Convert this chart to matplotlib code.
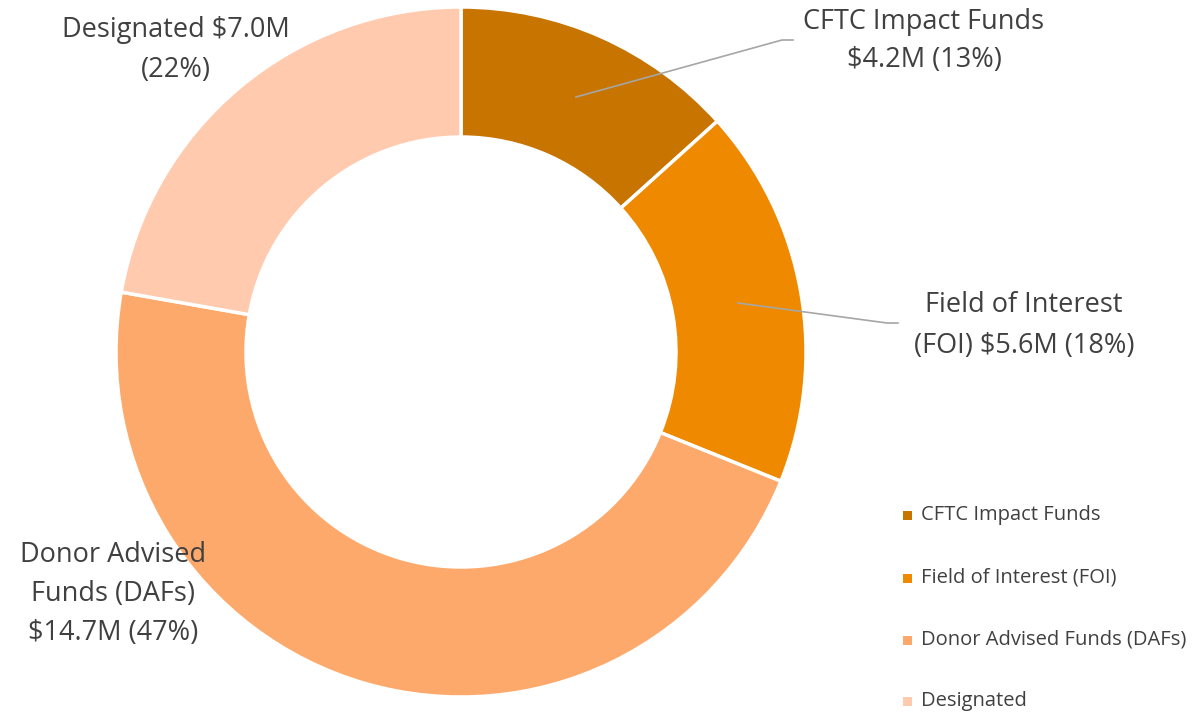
import matplotlib
matplotlib.use("Agg")
import matplotlib.pyplot as plt
from matplotlib.patches import Rectangle

plt.rcParams["font.family"] = ["Open Sans", "DejaVu Sans"]

categories = ["CFTC Impact Funds", "Field of Interest (FOI)", "Donor Advised Funds (DAFs)", "Designated"]
values = [4.2, 5.6, 14.7, 7.0]
percents = [13, 18, 47, 22]
colors = ["#C77400", "#EF8A00", "#FDA96B", "#FFCAAE"]

TEXT = "#404040"
LEADER = "#A6A6A6"
W, H = 1199, 713

fig = plt.figure(figsize=(W / 100, H / 100), dpi=100)
ax = fig.add_axes([0, 0, 1, 1])

cx, cy, r = 461, H - 352, 345
ax.pie(values, colors=colors, startangle=90, counterclock=False,
       center=(cx, cy), radius=r, frame=True,
       wedgeprops={"width": 130, "edgecolor": "white", "linewidth": 2.5})
ax.set_xlim(0, W)
ax.set_ylim(0, H)
ax.axis("off")


def y(p):
    return H - p


# leader lines
ax.plot([576, 782, 793], [y(97), y(40), y(40)], color=LEADER, lw=1.2)
ax.plot([738, 887, 898], [y(303), y(323), y(323)], color=LEADER, lw=1.2)

fs = 19.5
ax.text(924, y(22), categories[0], ha="center", va="center", fontsize=fs, color=TEXT)
ax.text(924, y(60), f"${values[0]}M ({percents[0]}%)", ha="center", va="center", fontsize=fs, color=TEXT)

ax.text(1024, y(305), "Field of Interest", ha="center", va="center", fontsize=fs, color=TEXT)
ax.text(1024, y(346), f"(FOI) ${values[1]}M ({percents[1]}%)", ha="center", va="center", fontsize=fs, color=TEXT)

ax.text(113, y(555), "Donor Advised", ha="center", va="center", fontsize=fs, color=TEXT)
ax.text(113, y(594), "Funds (DAFs)", ha="center", va="center", fontsize=fs, color=TEXT)
ax.text(113, y(633), f"${values[2]}M ({percents[2]}%)", ha="center", va="center", fontsize=fs, color=TEXT)

ax.text(176, y(30), f"Designated ${values[3]}M", ha="center", va="center", fontsize=fs, color=TEXT)
ax.text(176, y(70), f"({percents[3]}%)", ha="center", va="center", fontsize=fs, color=TEXT)

# legend
leg_y = [515, 578, 640, 701]
for name, col, ly in zip(categories, colors, leg_y):
    ax.add_patch(Rectangle((903, y(ly) - 4.5), 9, 9, facecolor=col, edgecolor="none"))
    ax.text(921, y(ly), name, ha="left", va="center", fontsize=14.5, color=TEXT)

fig.savefig("out.png", dpi=100)
